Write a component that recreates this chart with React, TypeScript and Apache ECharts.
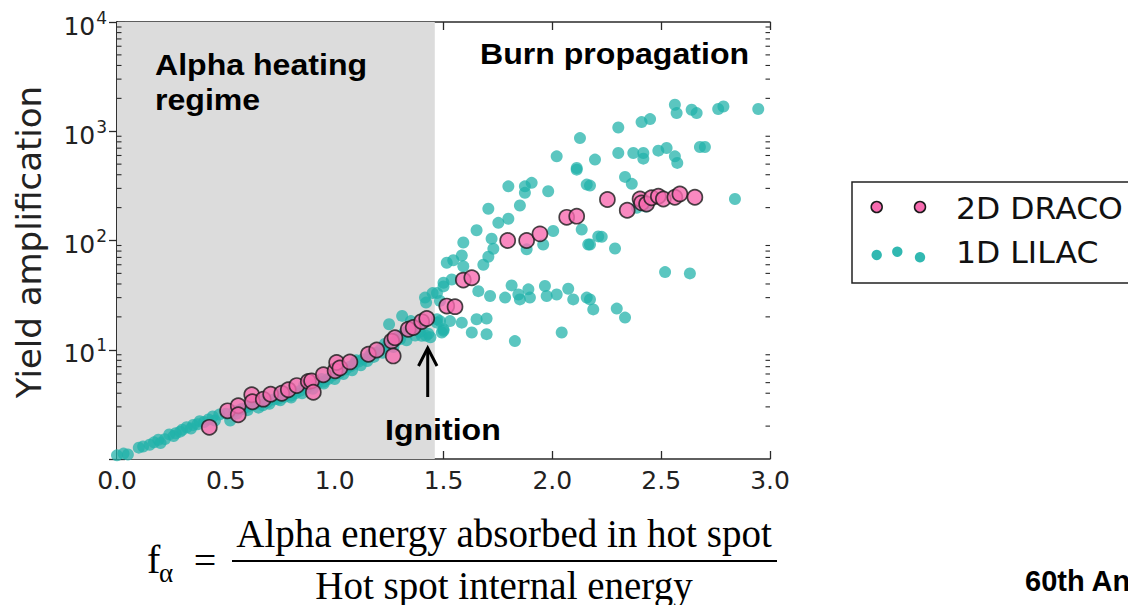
import React, { useEffect, useRef } from 'react';
import * as echarts from 'echarts';

// ---------- data ----------
const X_MIN = 0;
const X_MAX = 3.0;
const X_INTERVAL = 0.5;
const Y_MIN = 1;
const Y_MAX = 10000;
const MINOR_STEPS = [2, 3, 4, 5, 6, 7, 8, 9];
const DECADES = [1, 10, 100, 1000];
const ALPHA_REGIME_END = 1.46;

// 2D DRACO simulations [f_alpha, yield amplification]
const DRACO: number[][] = [
  [0.424, 1.95], [0.508, 2.76], [0.557, 3.07], [0.557, 2.54], [0.619, 3.87], [0.622, 3.34],
  [0.672, 3.53], [0.706, 3.92], [0.757, 4.0], [0.787, 4.3], [0.826, 4.7], [0.879, 5.13],
  [0.894, 5.19], [0.902, 4.08], [0.948, 5.9], [1.002, 6.41], [1.009, 7.64], [1.024, 6.8],
  [1.07, 7.74], [1.155, 9.1], [1.193, 9.96], [1.262, 12.0], [1.269, 8.78], [1.277, 12.9],
  [1.338, 15.4], [1.361, 16.0], [1.4, 18.1], [1.423, 19.3], [1.515, 25.1], [1.553, 24.8],
  [1.591, 43.4], [1.63, 45.6], [1.795, 100], [1.882, 100], [1.943, 115], [2.066, 163],
  [2.112, 167], [2.253, 237], [2.344, 189], [2.403, 240], [2.41, 221], [2.433, 216],
  [2.456, 246], [2.487, 254], [2.51, 240], [2.563, 249], [2.586, 267], [2.655, 249],
];

// 1D LILAC simulations [f_alpha, yield amplification]
const LILAC: number[][] = [
  [0.0, 1.08], [0.03, 1.12], [0.05, 1.1], [0.12, 1.3], [0.15, 1.35], [0.17, 1.42], [0.2, 1.4],
  [0.22, 1.52], [0.24, 1.68], [0.27, 1.72], [0.3, 1.85], [0.32, 1.95], [0.35, 2.05], [0.38, 2.22],
  [0.4, 2.18], [0.44, 2.45], [0.47, 2.55], [0.5, 2.6], [0.52, 2.25], [0.54, 2.75], [0.57, 2.85],
  [0.6, 3.0], [0.62, 3.1], [0.64, 3.2], [0.67, 3.1], [0.69, 3.3], [0.72, 3.5], [0.74, 3.55],
  [0.77, 3.7], [0.8, 3.8], [0.82, 4.0], [0.84, 4.2], [0.87, 4.45], [0.89, 4.7], [0.92, 4.9],
  [0.95, 5.1], [0.97, 5.4], [0.99, 5.8], [1.02, 6.1], [1.05, 6.6], [1.07, 7.0], [1.09, 7.4],
  [1.11, 7.8], [1.13, 8.2], [1.16, 8.8], [1.19, 9.4], [1.21, 10.0], [1.24, 10.8], [1.26, 11.5],
  [1.28, 12.0], [1.3, 12.5], [1.32, 14.4], [1.34, 15.0], [1.36, 15.4], [1.38, 16.2], [1.41, 17.7],
  [1.42, 13.4], [1.43, 14.0], [1.25, 17.1], [1.31, 20.4], [1.35, 18.3], [1.4, 13.4], [1.415, 30],
  [1.42, 27], [1.45, 33], [1.47, 19], [1.47, 17.7], [1.5, 15.4], [1.5, 14.9],
  [0.1, 1.27], [0.19, 1.5], [0.26, 1.62], [0.29, 1.78], [0.34, 1.9], [0.37, 2.08], [0.42, 2.3],
  [0.45, 2.25], [0.55, 2.6], [0.58, 2.9], [0.6, 2.8], [0.63, 3.35], [0.65, 2.95], [0.68, 3.55],
  [0.7, 3.2], [0.75, 3.45], [0.76, 4.05], [0.8, 3.65], [0.85, 4.0], [0.86, 4.75], [0.9, 4.4],
  [0.94, 5.4], [0.95, 4.9], [1.0, 5.4], [1.03, 6.6], [1.04, 6.0], [1.08, 6.5], [1.1, 8.0],
  [1.12, 7.2], [1.15, 7.9], [1.17, 9.3], [1.18, 8.6], [1.22, 9.4], [1.23, 11.3], [1.27, 10.6],
  [1.29, 13.2], [1.33, 12.2], [1.37, 13.5], [1.39, 14.6], [1.44, 13.0],
  [1.5, 41], [1.515, 62.5], [1.47, 33], [1.484, 28], [1.5, 38], [1.538, 44], [1.545, 66],
  [1.584, 73], [1.591, 58], [1.591, 96], [1.652, 124], [1.683, 60], [1.706, 71], [1.729, 84],
  [1.721, 104], [1.706, 195], [1.752, 145], [1.798, 158], [1.798, 313], [1.851, 209], [1.874, 313],
  [1.874, 273], [1.905, 337], [1.981, 282], [2.112, 445], [2.158, 325], [2.02, 589], [2.127, 866],
  [2.196, 550], [2.112, 461], [2.173, 318], [2.303, 1083], [2.41, 1213], [2.449, 1292], [2.303, 632],
  [2.372, 632], [2.418, 632], [2.418, 561], [2.487, 664], [2.525, 703], [2.563, 589], [2.574, 513],
  [2.678, 718], [2.701, 718], [2.563, 1746], [2.571, 1466], [2.64, 1571], [2.663, 1466],
  [2.762, 1596], [2.786, 1687], [2.946, 1596], [2.334, 382], [2.365, 330], [2.839, 240],
  [2.388, 199], [2.43, 205],
  [1.882, 83], [1.958, 92], [2.004, 122], [2.135, 126], [2.165, 92], [2.211, 109], [2.227, 108],
  [2.173, 92], [2.288, 84.6], [2.518, 51.4], [2.632, 50],
  [1.66, 34.4], [1.714, 31], [1.813, 38.8], [1.783, 30], [1.844, 32], [1.851, 28.9], [1.89, 35.7],
  [1.897, 30], [1.966, 38.3], [1.974, 31], [2.02, 32], [2.073, 36.2], [2.096, 28.9], [2.158, 30],
  [2.188, 23.4], [2.173, 28.9], [2.296, 23.8], [2.334, 19.7],
  [1.484, 18.3], [1.53, 18.3], [1.584, 17.7], [1.652, 19], [1.698, 19.3], [1.492, 14.4],
  [1.63, 14.4], [1.698, 13.9], [1.828, 12], [2.043, 14.4],
];

const SERIES_NAMES = ['2D DRACO', '1D LILAC'];

const TEAL = 'rgba(32,178,170,0.92)';
const PINK = '#f76bb0';
const FRAME = '#2a2a2a';

export default function App() {
  const ref = useRef<HTMLDivElement>(null);

  useEffect(() => {
    if (!ref.current) return;
    const chart = echarts.init(ref.current, null, { renderer: 'svg' });

    const minorData: number[][] = [];
    DECADES.forEach((d) => MINOR_STEPS.forEach((m) => minorData.push([X_MIN, m * d])));

    const axisLine = { show: true, lineStyle: { color: FRAME, width: 1.6 } };
    const majorTick = { show: true, inside: true, length: 8, lineStyle: { color: FRAME, width: 1.3 } };

    const txt = (x: number, y: number, text: string, font: string, extra: any = {}) => ({
      type: 'text', x, y, z: 50,
      ...extra,
      style: { text, font, fill: '#000', align: 'left', verticalAlign: 'middle', ...(extra.style || {}) },
    });

    const option: any = {
      animation: false,
      backgroundColor: '#ffffff',
      grid: { left: 117, top: 22, width: 653, height: 437, containLabel: false },
      xAxis: [
        {
          type: 'value', min: X_MIN, max: X_MAX, interval: X_INTERVAL, position: 'bottom',
          axisLine, axisTick: majorTick, splitLine: { show: false },
          axisLabel: {
            show: true, margin: 9, fontFamily: 'DejaVu Sans', fontSize: 25, color: '#222',
            showMinLabel: true, showMaxLabel: true,
            formatter: (v: number) => v.toFixed(1),
          },
        },
        {
          type: 'value', min: X_MIN, max: X_MAX, interval: X_INTERVAL, position: 'top',
          axisLine, axisTick: majorTick, splitLine: { show: false }, axisLabel: { show: false },
        },
      ],
      yAxis: [
        {
          type: 'log', logBase: 10, min: Y_MIN, max: Y_MAX, position: 'left',
          axisLine, axisTick: majorTick, splitLine: { show: false },
          axisLabel: {
            show: true, margin: 10, color: '#222', fontFamily: 'DejaVu Sans',
            formatter: (v: number) => (v <= 1 ? '' : `{b|10}{s|${Math.round(Math.log10(v))}}`),
            rich: {
              b: { fontSize: 25, fontFamily: 'DejaVu Sans', color: '#222', padding: [8, 0, 0, 0] },
              s: { fontSize: 17, fontFamily: 'DejaVu Sans', color: '#222', padding: [0, 0, 9, 1] },
            },
          },
        },
        {
          type: 'log', logBase: 10, min: Y_MIN, max: Y_MAX, position: 'right',
          axisLine, axisTick: majorTick, splitLine: { show: false }, axisLabel: { show: false },
        },
      ],
      series: [
        {
          name: 'regime',
          type: 'scatter',
          data: [],
          z: 0,
          silent: true,
          markArea: {
            silent: true,
            itemStyle: { color: '#dcdcdc' },
            data: [[{ xAxis: X_MIN, yAxis: Y_MIN }, { xAxis: ALPHA_REGIME_END, yAxis: Y_MAX }]],
          },
        },
        {
          name: SERIES_NAMES[1],
          type: 'scatter',
          data: LILAC,
          symbol: 'circle',
          symbolSize: 12,
          z: 2,
          itemStyle: { color: TEAL, borderWidth: 0 },
        },
        {
          name: SERIES_NAMES[0],
          type: 'scatter',
          data: DRACO,
          symbol: 'circle',
          symbolSize: 15,
          z: 3,
          itemStyle: { color: PINK, borderColor: '#1a1a1a', borderWidth: 1.7 },
        },
        {
          name: 'minor ticks',
          type: 'custom',
          silent: true,
          z: 5,
          clip: false,
          data: minorData,
          encode: { x: 0, y: 1 },
          renderItem: (_p: any, api: any) => {
            const y = api.value(1);
            const l = api.coord([X_MIN, y]);
            const r = api.coord([X_MAX, y]);
            const st = { stroke: FRAME, lineWidth: 1.1 };
            return {
              type: 'group',
              children: [
                { type: 'line', shape: { x1: l[0], y1: l[1], x2: l[0] + 4.5, y2: l[1] }, style: st },
                { type: 'line', shape: { x1: r[0] - 4.5, y1: r[1], x2: r[0], y2: r[1] }, style: st },
              ],
            };
          },
        },
      ],
      graphic: [
        // y axis title
        txt(29, 242, 'Yield amplification', '34px "DejaVu Sans"', {
          rotation: Math.PI / 2, style: { fill: '#222', align: 'center' },
        }),
        // region labels
        txt(155, 64.5, 'Alpha heating', 'bold 30px "Liberation Sans"', { scaleX: 1.07 }),
        txt(155, 99.5, 'regime', 'bold 30px "Liberation Sans"', { scaleX: 1.07 }),
        txt(480, 54, 'Burn propagation', 'bold 30px "Liberation Sans"', { scaleX: 1.07 }),
        txt(385, 429.5, 'Ignition', 'bold 30px "Liberation Sans"', { scaleX: 1.07 }),
        // ignition arrow
        {
          type: 'line', z: 50, shape: { x1: 427.7, y1: 397, x2: 427.7, y2: 349 },
          style: { stroke: '#000', lineWidth: 3 },
        },
        {
          type: 'polyline', z: 50, shape: { points: [[418.5, 366], [427.7, 348], [437, 366]] },
          style: { stroke: '#000', lineWidth: 3, fill: 'none' },
        },
        // formula
        txt(147, 559, 'f', '40px "Liberation Serif"'),
        txt(159, 573, 'α', '27px "Liberation Serif"'),
        txt(205, 560, '=', '40px "Liberation Serif"', { style: { align: 'center' } }),
        txt(504, 533, 'Alpha energy absorbed in hot spot', '39px "Liberation Serif"', { style: { align: 'center' } }),
        {
          type: 'line', z: 50, shape: { x1: 232, y1: 561, x2: 777, y2: 561 },
          style: { stroke: '#000', lineWidth: 2 },
        },
        txt(504, 585, 'Hot spot internal energy', '39px "Liberation Serif"', { style: { align: 'center' } }),
        // legend
        {
          type: 'rect', z: 50, shape: { x: 852, y: 182, width: 300, height: 101 },
          style: { fill: '#fff', stroke: '#222', lineWidth: 1.5 },
        },
        { type: 'circle', z: 51, shape: { cx: 876.7, cy: 207, r: 5.5 }, style: { fill: PINK, stroke: '#1a1a1a', lineWidth: 1.5 } },
        { type: 'circle', z: 51, shape: { cx: 920, cy: 207, r: 5.5 }, style: { fill: PINK, stroke: '#1a1a1a', lineWidth: 1.5 } },
        { type: 'circle', z: 51, shape: { cx: 876.7, cy: 255, r: 5.2 }, style: { fill: TEAL } },
        { type: 'circle', z: 51, shape: { cx: 897.3, cy: 251.7, r: 5.2 }, style: { fill: TEAL } },
        { type: 'circle', z: 51, shape: { cx: 920, cy: 257.3, r: 5.2 }, style: { fill: TEAL } },
        txt(956, 208.5, SERIES_NAMES[0], '30px "DejaVu Sans"', { z: 52, scaleX: 1.05, style: { fill: '#111' } }),
        txt(956, 252, SERIES_NAMES[1], '30px "DejaVu Sans"', { z: 52, scaleX: 1.05, style: { fill: '#111' } }),
        // footer (cut off at the right edge, as in the source slide)
        txt(1025, 581, '60th Annual Meeting of the APS Division of Plasma Physics', 'bold 29px "Liberation Sans"'),
      ],
    };

    chart.setOption(option);
    return () => chart.dispose();
  }, []);

  return (
    <div
      ref={ref}
      style={{ position: 'fixed', left: 0, top: 0, width: 1128, height: 605, background: '#fff' }}
    />
  );
}
